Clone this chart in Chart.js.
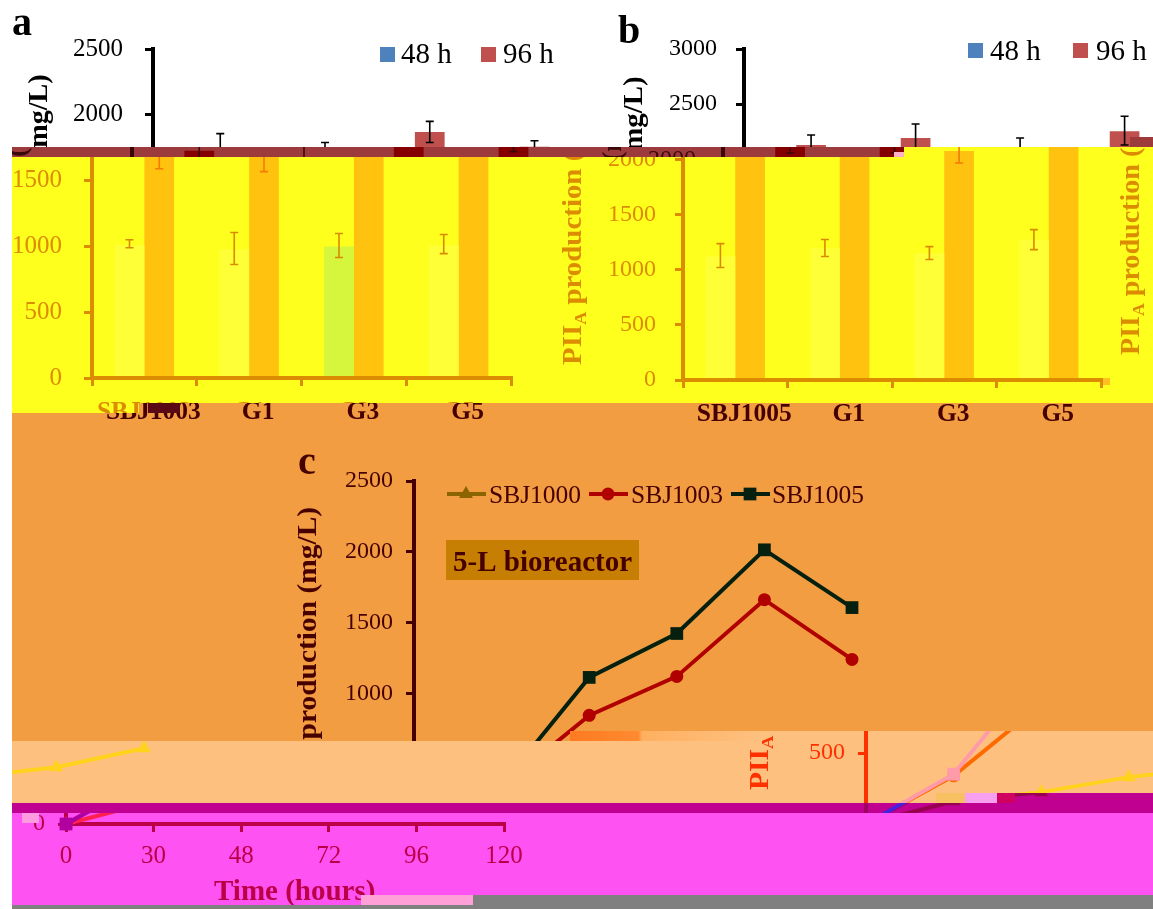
<!DOCTYPE html>
<html>
<head>
<meta charset="utf-8">
<title>PIIA production</title>
<script src="https://cdn.jsdelivr.net/npm/chart.js@4"></script>
<style>
  html, body { margin: 0; padding: 0; background: #fff; }
  #page { position: relative; width: 1153px; height: 909px; overflow: hidden; background: #fff; }
  .band { position: absolute; overflow: hidden; }
  .layer { position: absolute; }
  canvas { display: block; }
</style>
</head>
<body>
<div id="page"></div>
<script>
// panel a
const catsA = ["SBJ1003", "G1", "G3", "G5"];
const a48 = [1008, 977, 1000, 1008];
const a48Low = [990, 863, 916, 945];
const a48High = [1050, 1106, 1098, 1090];
const a96 = [1727, 1680, 1870, 1757];
const a96Low = [1590, 1568, 1790, 1720];
const a96High = [1857, 1790, 1950, 1803];
const ticksA = [0, 500, 1000, 1500, 2000, 2500];

// panel b
const catsB = ["SBJ1005", "G1", "G3", "G5"];
const b48 = [1119, 1191, 1146, 1272];
const b48Low = [1020, 1119, 1092, 1182];
const b48High = [1236, 1273, 1209, 1363];
const b96 = [2130, 2193, 2076, 2255];
const b96Low = [2058, 2060, 1967, 2130];
const b96High = [2220, 2320, 2193, 2390];
const ticksB = [0, 500, 1000, 1500, 2000, 2500, 3000];

// panel c
const hours = ["0", "30", "48", "72", "96", "120"];
const sbj1000 = [0, 160, 225, 331, 401, 535];
const sbj1003 = [0, 340, 845, 1120, 1662, 1240];
const sbj1005 = [0, 352, 1113, 1423, 2014, 1606];
const ticksC = [0, 500, 1000, 1500, 2000, 2500];

const W = 1200;
const H = 940;
const SERIF = "'Liberation Serif', 'Times New Roman', serif";

// plot boxes and decorations, in the coordinates each panel had before the image slipped
const PANELS = {
    a: {
        cats: catsA, yTicks: ticksA, max: 2500, left: 153, right: 572, top: 49, bottom: 378,
        tickSize: 25, tickPad: 22, s48: [a48, a48Low, a48High], s96: [a96, a96Low, a96High],
        letter: { text: "a", x: 12, y: 35 },
        title: { x: 36, y: 355, stretch: 1.04 },
        legend: [[380, 47, 401, 63], [481, 47, 503, 63]],
    },
    b: {
        cats: catsB, yTicks: ticksB, max: 3000, left: 744, right: 1162, top: 49, bottom: 380,
        tickSize: 24, tickPad: 19, s48: [b48, b48Low, b48High], s96: [b96, b96Low, b96High],
        letter: { text: "b", x: 618, y: 43 },
        title: { x: 631, y: 365, stretch: 1.07 },
        legend: [[968, 43, 990, 60], [1073, 43, 1096, 60]],
    },
    c: {
        cats: hours, yTicks: ticksC, max: 2500, left: 414, right: 852, top: 481, bottom: 835,
        tickSize: 24, tickPad: 13,
        letter: { text: "c", x: 298, y: 474 },
        title: { x: 305, y: 801, stretch: 1.09 },
    },
};

// colours of each corrupted stretch of the picture
const INK = {
    top: { ink: "#000", s48: "#4f81bd", s96: "#c0504d", err48: "#000", err96: "#000", l1000: "#000", l1003: "#000", l1005: "#000" },
    dark: { ink: "#3a0808", s48: "#9c3a3c", s96: "#850000", err48: "#3a0808", err96: "#3a0808", l1000: "#3a0808", l1003: "#3a0808", l1005: "#3a0808" },
    yellow: { ink: "#dc8c00", s48: "#ffff38", g3: "#d6f53d", s96: "#ffc20e", err48: "#d98a00", err96: "#f47a00", l1000: "#dc8c00", l1003: "#dc8c00", l1005: "#dc8c00" },
    orange: { ink: "#470000", s48: "#f29d41", s96: "#f29d41", err48: "#470000", err96: "#470000", l1000: "#8a6400", l1003: "#b00000", l1005: "#06200f" },
    peach: { ink: "#ff3000", s48: "#fec07f", s96: "#fec07f", err48: "#ff3000", err96: "#ff3000", l1000: "#ffd21e", l1003: "#ff6a00", l1005: "#ff9aa8" },
    strip: { ink: "#a00060", s48: "#c00090", s96: "#c00090", err48: "#a00060", err96: "#a00060", l1000: "#980050", l1003: "#a00050", l1005: "#4a20e0" },
    pink: { ink: "#bc0048", s48: "#ff52f2", s96: "#ff52f2", err48: "#bc0048", err96: "#bc0048", l1000: "#ff2050", l1003: "#b000a0", l1005: "#b000a0" },
};

// clip rectangle, fill, and which panels show through it at what slip
const BANDS = [
    { x: 0, y: 0, w: 1153, h: 147, bg: "#fff", ink: "top", marks: [["a", 0], ["b", 0]] },
    { x: 12, y: 157, w: 1141, h: 246, bg: "#ffff1e", ink: "yellow", marks: [["a", -61], ["a", 1092], ["b", -61]] },
    { x: 904, y: 147, w: 249, h: 10, bg: "#ffff1e", ink: "yellow", marks: [["a", 1092], ["b", -61]] },
    { x: 12, y: 403, w: 127, h: 10, bg: "#ffff1e", ink: "yellow", marks: [["a", -61]] },
    { x: 12, y: 147, w: 892, h: 10, bg: "#9c3a3c", ink: "dark", marks: [["a", -21], ["b", -21]] },
    { x: 1130, y: 137, w: 23, h: 10, bg: "#9c3a3c" },
    { x: 894, y: 152, w: 10, h: 5, bg: "#ffb0c8" },
    { x: 1103, y: 378, w: 7, h: 7, bg: "#ffc020" },
    { x: 139, y: 403, w: 1014, h: 338, bg: "#f29d41", ink: "orange", marks: [["a", -52], ["b", -52], ["c", 0]] },
    { x: 12, y: 413, w: 127, h: 328, bg: "#f29d41", ink: "orange", marks: [["a", -52], ["c", 0]] },
    { x: 148, y: 403, w: 32, h: 10, bg: "#5a0a14" },
    { x: 12, y: 741, w: 1141, h: 62, bg: "#fec07f", ink: "peach", marks: [["c", 451.5, -11], ["c", -708.5, -11]] },
    { x: 570, y: 731, w: 583, h: 10, bg: "#fec07f", ink: "peach", marks: [["c", 451.5, -11]] },
    { x: 570, y: 731, w: 190, h: 10, bg: "linear-gradient(90deg,#ff7a20,#ff8a30 36%,#ffb060 38%,#fec07f)" },
    { x: 936, y: 793, w: 29, h: 10, bg: "#f7c060" },
    { x: 965, y: 793, w: 32, h: 10, bg: "#f7a0f0" },
    { x: 997, y: 793, w: 18, h: 10, bg: "#d00060" },
    { x: 1015, y: 793, w: 138, h: 10, bg: "#c00090", ink: "strip", marks: [["c", 451.5, -11]] },
    { x: 12, y: 803, w: 1141, h: 10, bg: "#c00090", ink: "strip", marks: [["c", 451.5, -11]] },
    { x: 12, y: 813, w: 1141, h: 82, bg: "#ff52f2", ink: "pink", marks: [["c", -348, -11]] },
    { x: 12, y: 895, w: 349, h: 10, bg: "#ff52f2", ink: "pink", marks: [["c", -348, -11]] },
    { x: 22, y: 813, w: 17, h: 10, bg: "#ff9ae0" },
    { x: 12, y: 905, w: 1141, h: 4, bg: "#808080" },
    { x: 361, y: 895, w: 112, h: 10, bg: "#ffa0d8" },
    { x: 473, y: 895, w: 680, h: 14, bg: "#808080" },
];

const errorBars = {
    id: "errorBars",
    afterDatasetsDraw(chart) {
        const { ctx, scales } = chart;
        chart.data.datasets.forEach((ds, i) => {
            if (!ds.errLow) return;
            chart.getDatasetMeta(i).data.forEach((bar, j) => {
                const hi = scales.y.getPixelForValue(ds.errHigh[j]);
                const lo = scales.y.getPixelForValue(ds.errLow[j]);
                ctx.save();
                ctx.strokeStyle = ds.errColor;
                ctx.lineWidth = 1.6;
                ctx.beginPath();
                ctx.moveTo(bar.x, hi);
                ctx.lineTo(bar.x, lo);
                ctx.moveTo(bar.x - 4, hi);
                ctx.lineTo(bar.x + 4, hi);
                ctx.moveTo(bar.x - 4, lo);
                ctx.lineTo(bar.x + 4, lo);
                ctx.stroke();
                ctx.restore();
            });
        });
    },
};

function decor(p, ink) {
    return {
        id: "decor",
        afterDraw(chart) {
            const ctx = chart.ctx;
            ctx.save();
            ctx.textBaseline = "alphabetic";
            ctx.textAlign = "left";

            ctx.fillStyle = ink.ink;
            ctx.font = `bold 40px ${SERIF}`;
            ctx.fillText(p.letter.text, p.letter.x, p.letter.y);

            // rotated axis title, with the subscript A
            ctx.save();
            ctx.translate(p.title.x + 11, p.title.y);
            ctx.rotate(-Math.PI / 2);
            ctx.scale(p.title.stretch, 1);
            let cx = 0;
            ctx.font = `bold 27px ${SERIF}`;
            ctx.fillText("PII", 0, 0);
            cx += ctx.measureText("PII").width;
            ctx.font = `bold 17px ${SERIF}`;
            ctx.fillText("A", cx, 5);
            cx += ctx.measureText("A").width;
            ctx.font = `bold 27px ${SERIF}`;
            ctx.fillText(" production (mg/L)", cx, 0);
            ctx.restore();

            if (p.legend) {
                chart.data.datasets.forEach((ds, i) => {
                    const [sx, sy, tx, ty] = p.legend[i];
                    ctx.fillStyle = i === 0 ? ink.s48 : ink.s96;
                    ctx.fillRect(sx, sy, 15, 15);
                    ctx.fillStyle = ink.ink;
                    ctx.font = `29px ${SERIF}`;
                    ctx.fillText(ds.label, tx, ty);
                });
            } else {
                const spots = [[447, 489], [589, 631], [731, 772]];
                chart.data.datasets.forEach((ds, i) => {
                    const [lx, tx] = spots[i];
                    ctx.strokeStyle = ds.borderColor;
                    ctx.fillStyle = ds.borderColor;
                    ctx.lineWidth = 4;
                    ctx.beginPath();
                    ctx.moveTo(lx, 494);
                    ctx.lineTo(lx + 39, 494);
                    ctx.stroke();
                    Chart.helpers.drawPoint(ctx, { pointStyle: ds.pointStyle, radius: ds.pointRadius, rotation: 0, borderWidth: 0 }, lx + 19, 494);
                    ctx.fillStyle = ink.ink;
                    ctx.font = `25.5px ${SERIF}`;
                    ctx.fillText(ds.label, tx, 503);
                });

                ctx.fillStyle = "#c67f02";
                ctx.fillRect(446, 540, 193, 40);
                ctx.fillStyle = ink.ink;
                ctx.font = `bold 29px ${SERIF}`;
                ctx.fillText("5-L bioreactor", 453, 571);

                ctx.font = `bold 29px ${SERIF}`;
                ctx.fillText("Time (hours)", 562, 911);
            }
            ctx.restore();
        },
    };
}

function barData(p, ink) {
    const fills = p.cats.map((c, i) => (p === PANELS.a && i === 2 && ink.g3 ? ink.g3 : ink.s48));
    return {
        labels: p.cats,
        datasets: [
            { label: "48 h", data: p.s48[0], errLow: p.s48[1], errHigh: p.s48[2], errColor: ink.err48, backgroundColor: fills },
            { label: "96 h", data: p.s96[0], errLow: p.s96[1], errHigh: p.s96[2], errColor: ink.err96, backgroundColor: ink.s96 },
        ],
    };
}

function lineData(p, ink) {
    const line = (label, data, color, pointStyle, pointRadius, order) => ({
        label, data, pointStyle, pointRadius, order,
        borderColor: color, backgroundColor: color,
        pointBorderWidth: 0, borderWidth: 4, tension: 0, clip: false,
    });
    return {
        labels: p.cats,
        datasets: [
            line("SBJ1000", sbj1000, ink.l1000, "triangle", 8, 3),
            line("SBJ1003", sbj1003, ink.l1003, "circle", 6.5, 2),
            line("SBJ1005", sbj1005, ink.l1005, "rect", 9, 1),
        ],
    };
}

function makeChart(canvas, name, ink) {
    const p = PANELS[name];
    const isBar = name !== "c";
    const axisCommon = {
        grid: { drawOnChartArea: false, color: ink.ink, lineWidth: 3, tickLength: 8, z: isBar ? 1 : 0 },
        border: { color: ink.ink, width: 4, z: isBar ? 1 : 0 },
    };
    return new Chart(canvas, {
        type: isBar ? "bar" : "line",
        data: isBar ? barData(p, ink) : lineData(p, ink),
        options: {
            responsive: false,
            animation: false,
            devicePixelRatio: 1,
            layout: { padding: { top: p.top, right: W - p.right, left: 0, bottom: 0 } },
            datasets: { bar: { categoryPercentage: 0.568, barPercentage: 1 } },
            plugins: { legend: { display: false }, tooltip: { enabled: false } },
            scales: {
                x: {
                    ...axisCommon,
                    afterFit: (s) => { s.height = H - p.bottom; },
                    ticks: {
                        autoSkip: false, maxRotation: 0, padding: isBar ? 11 : 9, color: ink.ink,
                        font: { family: SERIF, size: isBar ? 25.5 : 25, weight: isBar ? "bold" : "normal" },
                    },
                },
                y: {
                    ...axisCommon,
                    min: 0,
                    max: p.max,
                    afterFit: (s) => { s.width = p.left; },
                    afterBuildTicks: (s) => { s.ticks = p.yTicks.map((value) => ({ value })); },
                    ticks: {
                        padding: p.tickPad, color: ink.ink,
                        font: { family: SERIF, size: p.tickSize },
                        callback: (v) => String(v),
                    },
                },
            },
        },
        plugins: [errorBars, decor(p, ink)],
    });
}

const page = document.getElementById("page");
BANDS.forEach((band) => {
    const box = document.createElement("div");
    box.className = "band";
    box.style.cssText = `left:${band.x}px;top:${band.y}px;width:${band.w}px;height:${band.h}px;background:${band.bg}`;
    page.appendChild(box);
    (band.marks || []).forEach(([name, dx, dy = 0]) => {
        const layer = document.createElement("div");
        layer.className = "layer";
        layer.style.cssText = `left:${dx - band.x}px;top:${dy - band.y}px;width:${W}px;height:${H}px`;
        const canvas = document.createElement("canvas");
        canvas.width = W;
        canvas.height = H;
        canvas.style.width = W + "px";
        canvas.style.height = H + "px";
        layer.appendChild(canvas);
        box.appendChild(layer);
        makeChart(canvas, name, INK[band.ink]);
    });
});
</script>
</body>
</html>
